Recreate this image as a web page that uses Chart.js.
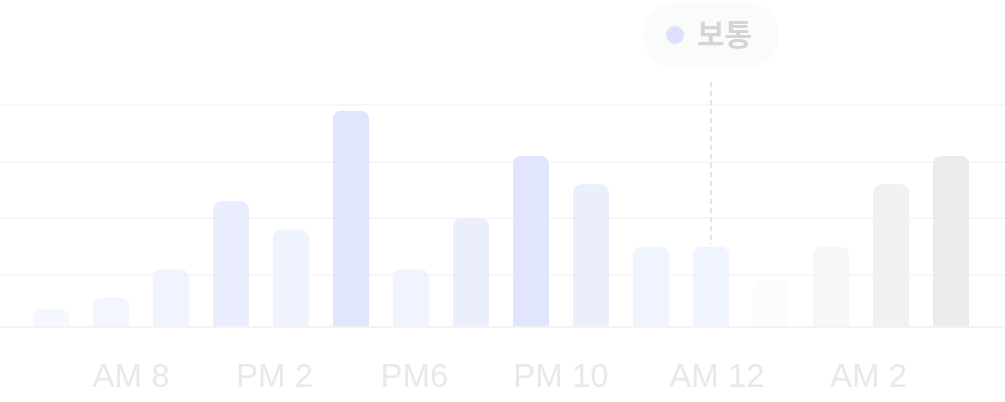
<!DOCTYPE html>
<html><head><meta charset="utf-8">
<script src="https://cdn.jsdelivr.net/npm/chart.js@4"></script>
<style>html,body{margin:0;padding:0;background:#fff}#w{width:1005px;height:402px}</style>
</head><body><div id="w"><canvas id="c"></canvas></div>
<script>
const categories = ['1','2','3','4','5','6','7','8','9','10','11','12','13','14','15','16'];
const values = [3,5,10,22,17,38,10,19,30,25,14,14,8,14,25,30];
const barColors = ['#f5f8ff','#f3f6ff','#f0f4fe','#e9edfd','#eff3fe','#e1e5fd','#f0f4fe','#eaeefd','#e1e5fd','#eaeefd','#f0f4fe','#f0f4fe','#fbfcfc','#f7f7f7','#f1f1f2','#ebebed'];
const tickLabels = ['AM 8','PM 2','PM6','PM 10','AM 12','AM 2'];
const tickPos = [0.1,2.97,5.77,8.7,11.82,14.85];
const gridValues = [9,19,29,39];
const tipIndex = 11, tipText = '보통';

const deco = {
  id:'deco',
  beforeDatasetsDraw(ch){
    const c=ch.ctx,y=ch.scales.y;
    c.save();c.strokeStyle='#f7f7f9';c.lineWidth=2;
    gridValues.forEach(v=>{const p=Math.round(y.getPixelForValue(v));c.beginPath();c.moveTo(0,p);c.lineTo(ch.width,p);c.stroke();});
    const b=y.getPixelForValue(0);c.strokeStyle='#f3f3f5';c.beginPath();c.moveTo(0,b+1);c.lineTo(ch.width,b+1);c.stroke();
    c.restore();
  },
  afterDatasetsDraw(ch){
    const c=ch.ctx,x=ch.scales.x.getPixelForValue(tipIndex),y=ch.scales.y;
    const top=y.getPixelForValue(values[tipIndex]);
    c.save();
    c.strokeStyle='#e4e4e6';c.lineWidth=2;c.setLineDash([5,4]);
    c.beginPath();c.moveTo(x,82);c.lineTo(x,top-2);c.stroke();c.setLineDash([]);
    c.fillStyle='#fafcfc';c.beginPath();c.roundRect(x-68,2,136,66,33);c.fill();
    c.fillStyle='#dde1fb';c.beginPath();c.arc(x-36,35,9,0,Math.PI*2);c.fill();
    c.fillStyle='#d5d5d8';c.font='bold 30px "Noto Sans CJK KR"';c.textBaseline='middle';c.textAlign='left';
    c.fillText(tipText,x-14,34);
    c.restore();
  }
};

new Chart(document.getElementById('c'),{
  type:'bar',
  data:{labels:categories,datasets:[{data:values,backgroundColor:barColors,borderRadius:{topLeft:8,topRight:8},borderSkipped:'bottom',barPercentage:0.6,categoryPercentage:1}]},
  options:{responsive:true,maintainAspectRatio:false,animation:false,
    layout:{padding:{top:105,left:21,right:24,bottom:0}},
    plugins:{legend:{display:false},tooltip:{enabled:false}},
    scales:{
      x:{display:false},
      xl:{type:'linear',position:'bottom',min:-0.5,max:15.5,
        afterBuildTicks(s){s.ticks=tickPos.map(v=>({value:v}));},
        afterFit(s){s.height=76;},
        grid:{display:false},border:{display:false},
        ticks:{autoSkip:false,maxRotation:0,padding:24,color:'#e8e8ed',font:{family:'Liberation Sans',size:33},
          callback(v,i){return tickLabels[i];}}},
      y:{display:false,min:0,max:39}
    }},
  plugins:[deco]
});
</script></body></html>
